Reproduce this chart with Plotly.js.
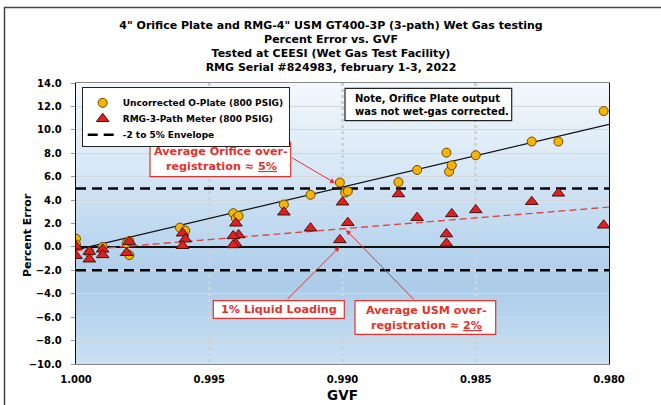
<!DOCTYPE html>
<html>
<head>
<meta charset="utf-8">
<script src="https://cdn.plot.ly/plotly-3.0.1.min.js"></script>
<style>html,body{margin:0;padding:0;background:#fff;}#chart{width:661px;height:405px;}</style>
</head>
<body>
<div id="chart"></div>
<script>
// ---- data ----
const orificeGVF = [1.0000, 1.0000, 0.9995, 0.9990, 0.9981, 0.9980, 0.9980, 0.9961, 0.9959, 0.9941, 0.9940, 0.9939, 0.9922, 0.9912, 0.9901, 0.9899, 0.9898, 0.9879, 0.9872, 0.9861, 0.9860, 0.9859, 0.9850, 0.9829, 0.9819, 0.9802];
const orificeErr = [0.7, 0.2, -0.5, 0.0, 0.3, 0.5, -0.7, 1.65, 1.4, 2.88, 2.45, 2.65, 3.62, 4.45, 5.5, 4.64, 4.75, 5.53, 6.57, 8.05, 6.43, 6.97, 7.83, 9.0, 9.0, 11.6];

const rmgGVF = [1.0000, 1.0000, 0.9995, 0.9995, 0.9990, 0.9990, 0.9980, 0.9981, 0.9960, 0.9959, 0.9960, 0.9940, 0.9939, 0.9941, 0.9940, 0.9941, 0.9922, 0.9912, 0.9901, 0.9900, 0.9898, 0.9879, 0.9872, 0.9859, 0.9861, 0.9861, 0.9850, 0.9829, 0.9819, 0.9802];
const rmgErr = [0.05, -0.75, -0.4, -1.05, -0.2, -0.68, 0.45, -0.5, 1.17, 0.66, 0.1, 2.02, 1.02, 0.94, 0.26, 0.17, 2.96, 1.6, 0.6, 3.82, 2.07, 4.52, 2.5, 2.82, 1.1, 0.3, 3.16, 3.86, 4.58, 1.85];

const trendGVF = [1.000, 0.980];
const orificeTrend = [-0.25, 10.47];
const rmgTrend = [-0.3, 3.4];

const envelopeUpper = 5;
const envelopeLower = -2;

const xTickVals = [1.000, 0.995, 0.990, 0.985, 0.980];
const xTickText = ['1.000', '0.995', '0.990', '0.985', '0.980'];
const yTickVals = [-10, -8, -6, -4, -2, 0, 2, 4, 6, 8, 10, 12, 14];

const xRange = [1.000, 0.980];
const yRange = [-10, 14];

// ---- layout geometry (pixels) ----
const W = 661, H = 405;
const PL = 76, PR = 52, PT = 83, PB = 41;
const PW = W - PL - PR, PH = H - PT - PB;
// pixel -> data helpers for placing annotation boxes
const gx = px => xRange[0] + (px - PL) / PW * (xRange[1] - xRange[0]);
const gy = py => yRange[1] - (py - PT) / PH * (yRange[1] - yRange[0]);

const FONT = '"DejaVu Sans", Verdana, sans-serif';
const RED = '#e3322b';

const traces = [
  {
    x: [trendGVF[0], trendGVF[1], null, trendGVF[0], trendGVF[1]],
    y: [envelopeUpper, envelopeUpper, null, envelopeLower, envelopeLower],
    mode: 'lines', name: '-2 to 5% Envelope', legendrank: 3,
    line: {color: '#000', width: 2.5, dash: '10px,6px'},
    hoverinfo: 'skip'
  },
  {
    x: trendGVF, y: orificeTrend, mode: 'lines', showlegend: false,
    line: {color: '#111', width: 1.3}, hoverinfo: 'skip'
  },
  {
    x: trendGVF, y: rmgTrend, mode: 'lines', showlegend: false,
    line: {color: '#e04848', width: 1.4, dash: '7px,4px'}, hoverinfo: 'skip'
  },
  {
    x: orificeGVF, y: orificeErr, mode: 'markers', name: 'Uncorrected O-Plate (800 PSIG)', legendrank: 1,
    marker: {symbol: 'circle', size: 9, color: '#f8b400', line: {color: '#6a4a00', width: 1}}
  },
  {
    x: rmgGVF, y: rmgErr, mode: 'markers', name: 'RMG-3-Path Meter (800 PSIG)', legendrank: 2,
    marker: {symbol: 'triangle-up', size: 11, color: '#e0201c', line: {color: '#4a1010', width: 1}}
  }
];

const gradSvg = "<svg xmlns='http://www.w3.org/2000/svg' width='10' height='100' preserveAspectRatio='none'>" +
  "<defs><linearGradient id='g' x1='0' y1='0' x2='0' y2='1'>" +
  "<stop offset='0' stop-color='#f3f8fd'/>" +
  "<stop offset='0.3' stop-color='#d8e8f6'/>" +
  "<stop offset='0.55' stop-color='#bcd7ef'/>" +
  "<stop offset='0.72' stop-color='#abcce9'/>" +
  "<stop offset='1' stop-color='#cbe1f4'/>" +
  "</linearGradient></defs><rect width='10' height='100' fill='url(#g)'/></svg>";

function box(x0, y0, x1, y1, color) {
  return {type: 'rect', xref: 'x', yref: 'y', x0: gx(x0), x1: gx(x1), y0: gy(y0), y1: gy(y1),
    line: {color: color, width: 1.2}, fillcolor: '#fff', layer: 'above'};
}
function label(px, py, text, size, color, anchor) {
  return {x: gx(px), y: gy(py), xref: 'x', yref: 'y', showarrow: false, text: text,
    xanchor: anchor || 'center', yanchor: 'middle',
    font: {family: FONT, size: size, weight: 'bold', color: color}};
}
function arrow(tx, ty, hx, hy) {
  return {x: gx(hx), y: gy(hy), xref: 'x', yref: 'y', ax: tx - hx, ay: ty - hy,
    showarrow: true, arrowhead: 2, arrowsize: 1, arrowwidth: 1, arrowcolor: RED,
    standoff: 0, startstandoff: 0, text: ' ', font: {size: 1}};
}

const layout = {
  width: W, height: H,
  margin: {l: PL, r: PR, t: PT, b: PB},
  paper_bgcolor: '#fff',
  plot_bgcolor: 'rgba(0,0,0,0)',
  font: {family: FONT, size: 10, color: '#000', weight: 'bold'},
  title: {
    text: '4" Orifice Plate and RMG-4" USM GT400-3P (3-path) Wet Gas testing<br>Percent Error vs. GVF<br>Tested at CEESI (Wet Gas Test Facility)<br>RMG Serial #824983, february 1-3, 2022',
    font: {family: FONT, size: 11, color: '#000', weight: 'bold'},
    x: 331 / W, xanchor: 'center', xref: 'container',
    y: 1 - 28.5 / H, yanchor: 'middle', yref: 'container'
  },
  xaxis: {
    range: xRange, tickvals: xTickVals, ticktext: xTickText,
    showgrid: true, gridcolor: '#cfd3d8', gridwidth: 3, griddash: 'dot',
    showline: true, linecolor: '#888', linewidth: 1, mirror: true,
    ticks: '', zeroline: false, ticklabelstandoff: 6,
    tickfont: {family: FONT, size: 10, weight: 'bold'},
    title: {text: 'GVF', font: {family: FONT, size: 13.5, weight: 'bold'}, standoff: 6}
  },
  yaxis: {
    range: yRange, tickvals: yTickVals, tickformat: '.1f',
    showgrid: true, gridcolor: '#d3d6da', gridwidth: 1,
    zeroline: true, zerolinecolor: '#111', zerolinewidth: 1.5,
    showline: true, linecolor: '#111', linewidth: 1.2, mirror: true,
    ticks: 'outside', ticklen: 4, tickcolor: '#999', ticklabelstandoff: 7,
    tickfont: {family: FONT, size: 10, weight: 'bold'}
  },
  legend: {
    x: (81.7 - PL) / PW, y: (H - PB - 87.3) / PH, xanchor: 'left', yanchor: 'top',
    bgcolor: '#fff', bordercolor: '#222', borderwidth: 1,
    font: {family: FONT, size: 9, weight: 'bold', color: '#000'},
    tracegroupgap: 0
  },
  images: [{
    source: 'data:image/svg+xml;charset=utf-8,' + encodeURIComponent(gradSvg),
    xref: 'paper', yref: 'paper', x: 0, y: 1, sizex: 1, sizey: 1,
    xanchor: 'left', yanchor: 'top', sizing: 'stretch', layer: 'below'
  }],
  shapes: [
    {
      type: 'rect', xref: 'paper', yref: 'paper',
      x0: (4.5 - PL) / PW, x1: 1.3, y0: (H - PB - 7.5) / PH, y1: -0.3,
      line: {color: '#444', width: 1.5}, fillcolor: 'rgba(0,0,0,0)', layer: 'above'
    },
    box(345, 88.3, 511.7, 120.7, '#222'),
    box(150, 142.3, 290.7, 176.7, RED),
    box(213.3, 300.7, 344.3, 318.3, RED),
    box(355, 300.7, 495.7, 334.3, RED)
  ],
  annotations: [
    {x: (27 - PL) / PW, y: (H - PB - 235) / PH, xref: 'paper', yref: 'paper', showarrow: false,
     text: 'Percent Error', textangle: -90, xanchor: 'center', yanchor: 'middle',
     font: {family: FONT, size: 11, weight: 'bold', color: '#000'}},
    label(353, 98.3, 'Note, Orifice Plate output', 10, '#000', 'left'),
    label(353, 111, 'was not wet-gas corrected.', 10, '#000', 'left'),
    label(221, 151.7, 'Average Orifice over-', 11.2, RED),
    label(221, 166.7, 'registration ≈ <u>5%</u>', 11.2, RED),
    label(279, 309.5, '1% Liquid Loading', 11.2, RED),
    label(426, 310.7, 'Average USM over-', 11.2, RED),
    label(426, 325, 'registration ≈ <u>2%</u>', 11.2, RED),
    arrow(290.7, 157, 335, 183),
    arrow(286, 300.7, 339.5, 247),
    arrow(415, 300.7, 346, 230)
  ]
};

Plotly.newPlot('chart', traces, layout, {staticPlot: true, displayModeBar: false}).then(function (gd) {
  // tighten legend row spacing to match the reference (16 px per row)
  const items = gd.querySelectorAll('.legend .traces');
  const step = 16;
  let y0 = null, oldStep = null, prev = null;
  items.forEach(function (el, i) {
    const m = /translate\(\s*([-\d.e]+)[ ,]+([-\d.e]+)\s*\)/.exec(el.getAttribute('transform') || '');
    if (!m) return;
    const y = parseFloat(m[2]);
    if (y0 === null) y0 = y;
    if (prev !== null && oldStep === null) oldStep = y - prev;
    prev = y;
    el.setAttribute('transform', 'translate(' + m[1] + ',' + (y0 + i * step) + ')');
  });
  const bg = gd.querySelector('.legend rect.bg');
  if (bg && oldStep) {
    const h = parseFloat(bg.getAttribute('height'));
    bg.setAttribute('height', h - (oldStep - step) * items.length);
  }
});
</script>
</body>
</html>
